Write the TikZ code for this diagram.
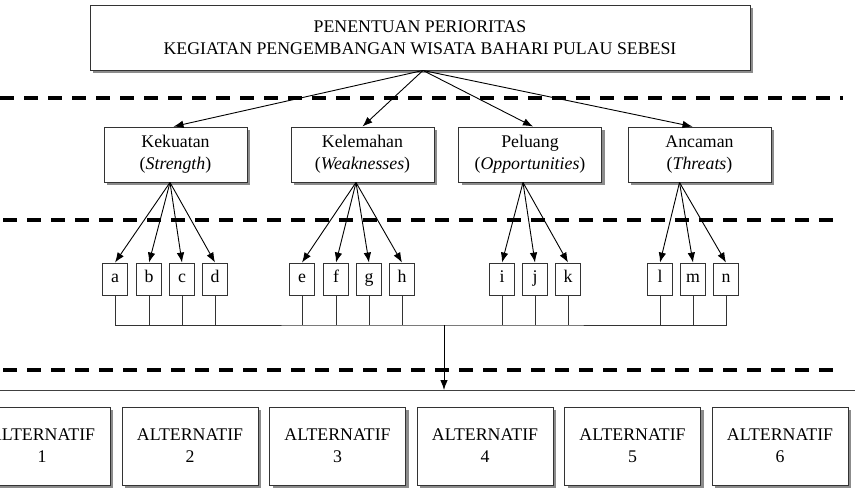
\documentclass[tikz,border=0pt]{standalone}
\usepackage{fontspec}
\setmainfont{Liberation Serif}
\usetikzlibrary{arrows.meta}
\usetikzlibrary{shadows}
\usetikzlibrary{positioning}

\tikzset{
kotak/.style={draw=black!80, fill=white, inner sep=0pt, align=center,
  drop shadow={shadow xshift=3pt, shadow yshift=-3pt, fill=black!45, opacity=1}},
faktor/.style={kotak, minimum width=143pt, minimum height=55pt},
alter/.style={kotak, minimum width=136pt, minimum height=78pt},
kecil/.style={draw=black!80, fill=white, inner sep=0pt, minimum width=25pt,
  minimum height=32pt, text height=12pt, text depth=6pt},
pemisah/.style={line width=3.5pt, dash pattern=on 14pt off 10pt},
}

\begin{document}
\begin{tikzpicture}[x=1pt, y=-1pt, >={Latex[length=10pt,width=7.5pt]}, line width=0.9pt,
  font=\fontsize{17.8}{22}\selectfont]
\useasboundingbox (0,0) rectangle (855,501);
% garis pemisah
\draw[pemisah] (0,98) -- (843,98);
\draw[pemisah] (3,220) -- (843,220);
\draw[pemisah] (3,370) -- (843,370);
\draw[black!75] (0,390) -- (855,390);
\coordinate (dasar) at (444,390);
\coordinate (bus) at (444,325);

% tujuan
\node[kotak, minimum width=660pt, minimum height=65pt] (judul) at (420,37.5)
  {PENENTUAN PERIORITAS\\KEGIATAN PENGEMBANGAN WISATA BAHARI PULAU SEBESI};

% faktor SWOT
\node[faktor] (S) at (175.5,154.5) {Kekuatan\\(\textit{Strength})};
\node[faktor] (W) at (362.5,154.5) {Kelemahan\\(\textit{Weaknesses})};
\node[faktor] (O) at (530,154.5) {Peluang\\(\textit{Opportunities})};
\node[faktor] (T) at (699.5,154.5) {Ancaman\\(\textit{Threats})};

% sub faktor
\node[kecil] (a) at (115,279) {a};
\node[kecil] (b) at (149,279) {b};
\node[kecil] (c) at (182,279) {c};
\node[kecil] (d) at (215,279) {d};
\node[kecil] (e) at (302,279) {e};
\node[kecil] (f) at (336,279) {f};
\node[kecil] (g) at (369,279) {g};
\node[kecil] (h) at (402,279) {h};
\node[kecil] (i) at (502,279) {i};
\node[kecil] (j) at (535,279) {j};
\node[kecil] (k) at (568,279) {k};
\node[kecil] (l) at (660,279) {l};
\node[kecil] (m) at (693,279) {m};
\node[kecil] (n) at (726,279) {n};

% alternatif
\node[alter] (A1) at (42,446) {ALTERNATIF\\1};
\node[alter] (A2) at (190,446) {ALTERNATIF\\2};
\node[alter] (A3) at (337.5,446) {ALTERNATIF\\3};
\node[alter] (A4) at (485,446) {ALTERNATIF\\4};
\node[alter] (A5) at (632.5,446) {ALTERNATIF\\5};
\node[alter] (A6) at (780,446) {ALTERNATIF\\6};

% panah
\coordinate (pj) at ([xshift=3pt]judul.south);
\draw[->] (pj) -- ([xshift=-2pt]S.north);
\draw[->] (pj) -- (W.north);
\draw[->] (pj) -- ([xshift=3pt]O.north);
\draw[->] (pj) -- ([xshift=-7pt]T.north);
\coordinate (ps) at ([xshift=-5.5pt]S.south);
\coordinate (pw) at ([xshift=-6.5pt]W.south);
\coordinate (po) at ([xshift=-7pt]O.south);
\coordinate (pt) at ([xshift=-20pt]T.south);
\draw[->] (ps) -- (a.north);
\draw[->] (ps) -- (b.north);
\draw[->] (ps) -- (c.north);
\draw[->] (ps) -- (d.north);
\draw[->] (pw) -- (e.north);
\draw[->] (pw) -- (f.north);
\draw[->] (pw) -- (g.north);
\draw[->] (pw) -- (h.north);
\draw[->] (po) -- (i.north);
\draw[->] (po) -- (j.north);
\draw[->] (po) -- (k.north);
\draw[->] (pt) -- (l.north);
\draw[->] (pt) -- (m.north);
\draw[->] (pt) -- (n.north);

% garis penghubung
\draw[black!80] (a.south) |- (bus) -| (n.south);
\draw[black!80] (b.south) -- (b.south |- bus) (c.south) -- (c.south |- bus)
  (d.south) -- (d.south |- bus) (e.south) -- (e.south |- bus)
  (f.south) -- (f.south |- bus) (g.south) -- (g.south |- bus)
  (h.south) -- (h.south |- bus) (i.south) -- (i.south |- bus)
  (j.south) -- (j.south |- bus) (k.south) -- (k.south |- bus)
  (l.south) -- (l.south |- bus) (m.south) -- (m.south |- bus);
\draw[->] (bus) -- (dasar);
\end{tikzpicture}
\end{document}
